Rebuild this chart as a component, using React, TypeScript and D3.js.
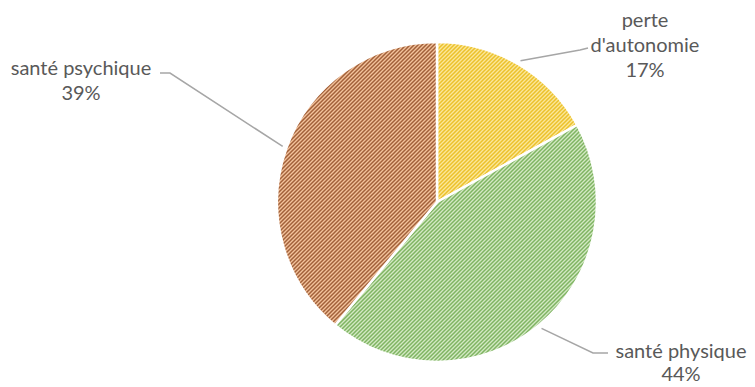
import React from "react";
import * as d3 from "d3";

const categories = ["perte d'autonomie", "santé physique", "santé psychique"];
const values = [17, 44, 39];
const labelLines = [["perte", "d'autonomie", "17%"], ["santé physique", "44%"], ["santé psychique", "39%"]];
const baseColors = ["#fbe79a", "#d3e9c3", "#f3c29c"];
const lineColors = ["#ecc12a", "#7fb462", "#a2613a"];

// layout of labels (text anchor center, first-line baseline) and connector elbow/end
const labelLayout = [
  { x: 645, y: 27, elbow: [580, 50], end: [588, 48] },
  { x: 681, y: 358, elbow: [593, 353], end: [608, 353] },
  { x: 81, y: 75, elbow: [170, 73], end: [160, 73] },
];

const W = 755, H = 387;
const cx = 437, cy = 202, R = 160;

export default function App() {
  const pie = d3.pie<number>().sort(null).value((d) => d);
  const arcs = pie(values);
  const arc = d3.arc<d3.PieArcDatum<number>>().innerRadius(0).outerRadius(R);
  const lineH = 24;
  return (
    <svg width={W} height={H} style={{ position: "absolute", left: 0, top: 0, background: "#fff" }}
      fontFamily="Lato, 'Open Sans', sans-serif">
      <defs>
        {categories.map((c, i) => (
          <pattern key={c} id={`pat${i}`} patternUnits="userSpaceOnUse" width={4} height={4}>
            <rect width={4} height={4} fill={baseColors[i]} />
            <path d="M-1,1 l2,-2 M0,4 l4,-4 M3,5 l2,-2" stroke={lineColors[i]} strokeWidth={1.5} />
          </pattern>
        ))}
      </defs>
      <g transform={`translate(${cx},${cy})`}>
        {arcs.map((a, i) => (
          <path key={i} d={arc(a) || ""} fill={`url(#pat${i})`} stroke="#fff" strokeWidth={2.5} />
        ))}
      </g>
      {arcs.map((a, i) => {
        const mid = (a.startAngle + a.endAngle) / 2;
        const r0 = R + 4;
        const sx = cx + r0 * Math.sin(mid);
        const sy = cy - r0 * Math.cos(mid);
        const L = labelLayout[i];
        return (
          <polyline key={"l" + i} points={`${sx},${sy} ${L.elbow[0]},${L.elbow[1]} ${L.end[0]},${L.end[1]}`}
            fill="none" stroke="#a6a6a6" strokeWidth={1.5} />
        );
      })}
      {labelLines.map((lines, i) => (
        <text key={"t" + i} x={labelLayout[i].x} y={labelLayout[i].y} textAnchor="middle" fontSize={20} fill="#595959">
          {lines.map((s, j) => (
            <tspan key={j} x={labelLayout[i].x} dy={j === 0 ? 0 : (i === 1 ? 23 : lineH + 1)}>{s}</tspan>
          ))}
        </text>
      ))}
    </svg>
  );
}
